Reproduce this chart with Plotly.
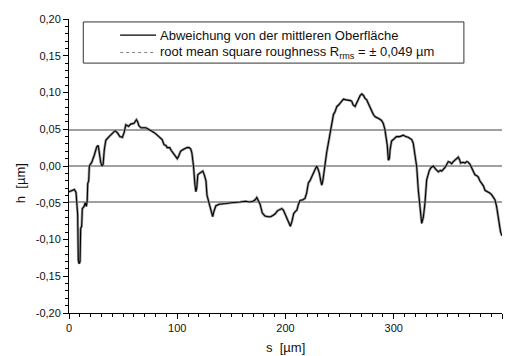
import plotly.graph_objects as go

# Surface profile: position s [µm] and height deviation h [µm]
s_um = [0, 2.5, 5, 6.5, 7.2, 8, 8.6, 9.3, 10.2, 10.8, 11.7, 12.3, 13.9, 15, 16, 16.8, 17.3, 18.2,
        18.8, 21, 23.4, 25.6, 27, 28, 29.3, 30.5, 31.5, 32.6, 34, 37, 40, 42.6, 44.8, 47, 49.3,
        51, 52.5, 55, 57, 60, 62.3, 63.5, 64.5, 66.5, 71, 74, 77, 80, 82.5, 84.7, 86, 87.8, 89.5,
        90.8, 93, 94.5, 96.5, 98.5, 100, 101.5, 103, 105, 107, 109, 111, 112.5, 113.5, 115,
        116.3, 117.2, 118, 119, 120.5, 122, 123.6, 125, 126.5, 127.5, 128.5, 129.7, 131, 132.7,
        134, 135.7, 138.8, 142, 145, 150, 154, 158, 163, 167, 170, 172, 173.5, 175, 176.5,
        178.6, 181, 184, 186.3, 188.7, 190.5, 192.5, 194.5, 196.5, 198, 199.5, 201.5, 203,
        204.5, 206, 207.5, 209, 210.5, 212, 213.4, 216, 218, 219.5, 221.1, 222.6, 224.2, 225.7,
        227.5, 228.8, 230, 231.3, 232.5, 233.5, 234.5, 235.6, 236.8, 238, 239.5, 241.2, 242.7,
        244.3, 245.8, 247.4, 249, 251, 253.5, 256, 258.1, 260, 261.2, 262.5, 264.3, 265.8,
        267.4, 269, 270.5, 272, 273.5, 275, 276.5, 278, 279.7, 281.2, 282.8, 284.5, 286.8,
        288.7, 290.3, 291.8, 293, 294, 295, 296, 296.6, 298, 299.6, 302.5, 305.5, 308.8, 311,
        313.4, 316.6, 318, 319.6, 321.2, 322.7, 324.3, 325.8, 327.3, 328.8, 330.4, 332.9,
        334.5, 336.6, 338.5, 341.2, 343, 344.3, 347.4, 350.4, 352, 353.5, 355, 356.6, 358,
        359.6, 361, 361.8, 364, 365.8, 367.5, 368.9, 370.5, 372, 373.5, 375, 376.5, 378.1,
        379.5, 381.2, 382.8, 384.3, 385.8, 387.3, 389, 390.4, 392, 393.5, 395, 396.6, 398.7, 400]

h_um = [-0.035, -0.034, -0.032, -0.036, -0.060, -0.066, -0.128, -0.133, -0.130, -0.085, -0.082,
        -0.058, -0.055, -0.050, -0.055, -0.048, -0.024, -0.020, 0.000, 0.005, 0.015, 0.026,
        0.028, 0.017, 0.005, 0.000, 0.002, 0.022, 0.035, 0.040, 0.045, 0.048, 0.045, 0.040,
        0.039, 0.046, 0.056, 0.054, 0.057, 0.058, 0.063, 0.060, 0.055, 0.052, 0.052, 0.050,
        0.047, 0.044, 0.041, 0.038, 0.036, 0.029, 0.028, 0.025, 0.025, 0.021, 0.017, 0.012,
        0.010, 0.014, 0.020, 0.022, 0.024, 0.025, 0.025, 0.023, 0.018, 0.000, -0.025, -0.035,
        -0.030, -0.012, -0.010, -0.008, -0.007, -0.012, -0.020, -0.040, -0.046, -0.052, -0.060,
        -0.069, -0.061, -0.054, -0.052, -0.051, -0.051, -0.050, -0.049, -0.049, -0.048, -0.049,
        -0.048, -0.046, -0.043, -0.047, -0.052, -0.064, -0.068, -0.069, -0.069, -0.067, -0.065,
        -0.061, -0.059, -0.058, -0.060, -0.065, -0.073, -0.079, -0.082, -0.075, -0.065, -0.062,
        -0.060, -0.052, -0.047, -0.046, -0.044, -0.037, -0.023, -0.020, -0.015, -0.008, -0.004,
        0.000, -0.004, -0.010, -0.020, -0.026, -0.020, -0.005, 0.005, 0.018, 0.030, 0.045,
        0.055, 0.070, 0.074, 0.081, 0.083, 0.087, 0.091, 0.090, 0.090, 0.089, 0.088, 0.083,
        0.081, 0.086, 0.091, 0.096, 0.098, 0.096, 0.092, 0.090, 0.085, 0.080, 0.076, 0.070,
        0.067, 0.066, 0.064, 0.062, 0.058, 0.050, 0.040, 0.028, 0.008, 0.010, 0.022, 0.034,
        0.036, 0.040, 0.040, 0.042, 0.040, 0.039, 0.036, 0.031, 0.015, -0.001, -0.033, -0.062,
        -0.078, -0.070, -0.051, -0.019, -0.006, -0.002, 0.000, -0.004, -0.008, -0.006, -0.007,
        -0.002, 0.006, 0.005, 0.003, 0.006, 0.008, 0.010, 0.012, 0.008, 0.004, 0.005, 0.004,
        0.006, 0.005, 0.002, -0.002, -0.006, -0.012, -0.013, -0.015, -0.020, -0.024, -0.027,
        -0.033, -0.034, -0.036, -0.037, -0.039, -0.042, -0.046, -0.055, -0.072, -0.090, -0.095]

rms = 0.049
s_range = [0, 400]
h_range = [-0.20, 0.20]
y_ticks = [-0.20, -0.15, -0.10, -0.05, 0.00, 0.05, 0.10, 0.15, 0.20]
x_ticks = [0, 100, 200, 300, 400]

FONT = "Arial, Liberation Sans, Helvetica, sans-serif"
GRAY = "#808080"

fig = go.Figure()

# rms band and mean line
for level in (rms, 0.0, -rms):
    fig.add_trace(go.Scatter(x=s_range, y=[level, level], mode="lines",
                             line=dict(color=GRAY, width=1.7),
                             hoverinfo="skip", showlegend=False))

# profile: light gray halo under a black line
fig.add_trace(go.Scatter(x=s_um, y=h_um, mode="lines",
                         line=dict(color="#9a9a9a", width=2.6),
                         hoverinfo="skip", showlegend=False))
fig.add_trace(go.Scatter(x=s_um, y=h_um, mode="lines",
                         line=dict(color="black", width=1.1),
                         name="Abweichung von der mittleren Oberfläche", showlegend=False))

# legend box drawn in paper coordinates
lx0, lx1, ly0, ly1 = 0.033, 0.912, 0.850, 0.990
sx0, sx1 = 0.118, 0.201
row1, row2 = 0.945, 0.886
fig.add_shape(type="rect", xref="paper", yref="paper", x0=lx0, x1=lx1, y0=ly0, y1=ly1,
              line=dict(color="#333333", width=1), fillcolor="white", layer="above")
fig.add_shape(type="line", xref="paper", yref="paper", x0=sx0, x1=sx1, y0=row1, y1=row1,
              line=dict(color="black", width=1.3), layer="above")
fig.add_shape(type="line", xref="paper", yref="paper", x0=sx0, x1=sx1, y0=row2, y1=row2,
              line=dict(color="#666666", width=0.8, dash="dot"), layer="above")
fig.add_annotation(xref="paper", yref="paper", x=0.205, y=row1, xanchor="left", yanchor="middle",
                   text="Abweichung von der mittleren Oberfläche", showarrow=False,
                   font=dict(family=FONT, size=13, color="#111111"))
fig.add_annotation(xref="paper", yref="paper", x=0.205, y=row2, xanchor="left", yanchor="middle",
                   text="root mean square roughness R<sub>rms</sub> = ± "
                        + f"{rms:.3f}".replace(".", ",") + " µm",
                   showarrow=False, font=dict(family=FONT, size=13, color="#111111"))

# axis titles
fig.add_annotation(xref="paper", yref="paper", x=0.5, y=-0.116, xanchor="center", yanchor="middle",
                   text="s  [µm]", showarrow=False, font=dict(family=FONT, size=13, color="#111111"))
fig.add_annotation(xref="paper", yref="paper", x=-0.112, y=0.44, xanchor="center", yanchor="middle",
                   text="h  [µm]", textangle=-90, showarrow=False,
                   font=dict(family=FONT, size=13, color="#111111"))

fig.update_layout(
    width=509, height=356,
    margin=dict(l=69, r=7, t=19, b=43),
    paper_bgcolor="white", plot_bgcolor="white",
    font=dict(family=FONT, size=11, color="#111111"),
    showlegend=False,
)
fig.update_xaxes(range=s_range, showgrid=False, zeroline=False,
                 showline=True, linecolor="black", linewidth=1,
                 ticks="outside", ticklen=5, tickwidth=1, tickcolor="black",
                 tickvals=x_ticks, ticktext=[str(v) for v in x_ticks],
                 minor=dict(ticks="outside", ticklen=3, tickwidth=1, tickcolor="black", dtick=10,
                            showgrid=False),
                 tickfont=dict(family=FONT, size=11))
fig.update_yaxes(range=h_range, showgrid=False, zeroline=False,
                 showline=True, linecolor="black", linewidth=1,
                 ticks="outside", ticklen=5, tickwidth=1, tickcolor="black",
                 tickvals=y_ticks, ticktext=[f"{v:.2f}".replace(".", ",") for v in y_ticks],
                 minor=dict(ticks="outside", ticklen=3, tickwidth=1, tickcolor="black", dtick=0.01,
                            showgrid=False),
                 tickfont=dict(family=FONT, size=11))

fig.write_html("out.html")
